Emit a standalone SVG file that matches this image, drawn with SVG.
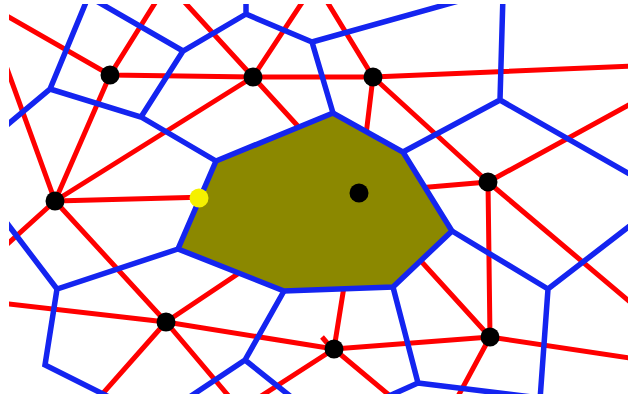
<svg xmlns="http://www.w3.org/2000/svg" width="628" height="398" viewBox="0 0 628 398">
<defs>
<style>
.r{stroke:#ff0000;stroke-width:5;fill:none;stroke-linecap:butt}
.b{stroke:#1424f0;stroke-width:5.5;fill:none;stroke-linejoin:miter}
.p{fill:#000}
</style>
<clipPath id="cl"><rect x="9" y="4" width="619" height="390"/></clipPath>
</defs>
<rect width="628" height="398" fill="#fff"/>
<g clip-path="url(#cl)">
<g id="delaunay">
<path class="r" d="M0,12 L110,75 L253,77 L373,77 L636,66"/>
<path class="r" d="M110,75 L160,-5 M110,75 L55,201 M253,77 L178,-5 M253,77 L307,-5 M253,77 L359,193 M55,201 L253,77"/>
<path class="r" d="M55,201 L5,63 M55,201 L359,193 M55,201 L3,248 M55,201 L166,322"/>
<path class="r" d="M166,322 L0,303 M166,322 L334,349 L490,337 L636,359 M166,322 L359,193 M166,322 L97,400 M166,322 L232,400"/>
<path class="r" d="M334,349 L359,193 M334,349 L395,400 M334,349 L255,400 M322,337 L328,344"/>
<path class="r" d="M490,337 L488,182 M490,337 L359,193 M490,337 L456,400"/>
<path class="r" d="M488,182 L373,77 M488,182 L636,101 M488,182 L359,193 M488,182 L636,307"/>
<path class="r" d="M373,77 L323,-5 M373,77 L359,193"/>
</g>
<g id="cell">
<polygon points="216,161 333,113 403,152 452,231 393,287 284,291 178,249" fill="#8b8800"/>
</g>
<g id="voronoi">
<path class="b" d="M216,161 L333,113 L403,152 L452,231 L393,287 L284,291 L178,249 Z"/>
<path class="b" d="M89,-5 L50,89 L0,131 M50,89 L141,117 L216,161"/>
<path class="b" d="M86,-5 L183,51 L246,14 L246,-5 M183,51 L141,117 M246,14 L312,42 L333,113 M312,42 L480,-5"/>
<path class="b" d="M503,-5 L500,100 L403,152 M500,100 L640,180"/>
<path class="b" d="M452,231 L548,289 L640,218 M548,289 L540,400"/>
<path class="b" d="M393,287 L418,383 L380,400 M418,383 L540,398"/>
<path class="b" d="M178,249 L57,289 L3,218 M57,289 L45,365 L115,400"/>
<path class="b" d="M284,291 L245,360 L185,400 M245,360 L295,400"/>
</g>
</g>
<g id="sites">
<circle class="p" cx="110" cy="75" r="9.5"/>
<circle class="p" cx="253" cy="77" r="9.5"/>
<circle class="p" cx="373" cy="77" r="9.5"/>
<circle class="p" cx="55" cy="201" r="9.5"/>
<circle class="p" cx="359" cy="193" r="9.5"/>
<circle class="p" cx="488" cy="182" r="9.5"/>
<circle class="p" cx="166" cy="322" r="9.5"/>
<circle class="p" cx="334" cy="349" r="9.5"/>
<circle class="p" cx="490" cy="337" r="9.5"/>
</g>
<g id="marker">
<circle cx="199" cy="198" r="9.5" fill="#f5f000"/>
</g>
</svg>
